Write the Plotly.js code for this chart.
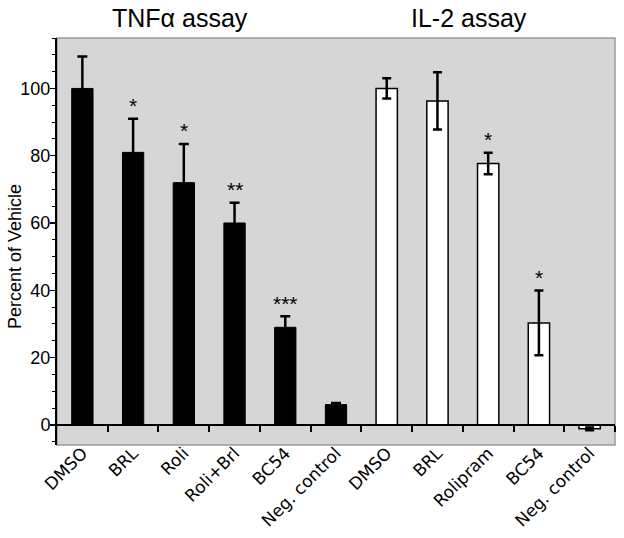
<!DOCTYPE html>
<html>
<head>
<meta charset="utf-8">
<script src="https://cdn.plot.ly/plotly-3.0.1.min.js"></script>
<style>
  body { margin: 0; background: #fff; }
  #chart { width: 624px; height: 538px; }
</style>
</head>
<body>
<div id="chart"></div>
<script>
const tnfLabels = ['DMSO', 'BRL', 'Roli', 'Roli+Brl', 'BC54', 'Neg. control']
const tnfValues = [100, 81, 72, 60, 29, 6]
const tnfErrors = [9.5, 10, 11.5, 6, 3.3, 0.5]
const tnfStars = ['', '*', '*', '**', '***', '']

const il2Labels = ['DMSO', 'BRL', 'Rolipram', 'BC54', 'Neg. control']
const il2Values = [100, 96.3, 77.7, 30.3, -1.2]
const il2Errors = [3, 8.5, 3.2, 9.6, 0.4]
const il2Stars = ['', '', '*', '*', '']

const tnfX = tnfLabels.map((label, i) => i)
const il2X = il2Labels.map((label, i) => i + tnfLabels.length)
const allX = tnfX.concat(il2X)
const allLabels = tnfLabels.concat(il2Labels)
const boundaries = allX.map(x => x + 0.5)

const yRange = [-6, 115]
const xRange = [-0.5, allX.length - 0.5]

const sans = 'Liberation Sans, Arial, sans-serif'

const tnfTrace = {
	x: tnfX,
	y: tnfValues,
	type: 'bar',
	width: 0.42,
	marker: { color: '#000', line: { color: '#000', width: 1 } },
	error_y: {
		type: 'data',
		array: tnfErrors,
		color: '#000',
		thickness: 2.5,
		width: 5,
	},
}

const il2Trace = {
	x: il2X,
	y: il2Values,
	type: 'bar',
	width: 0.42,
	marker: { color: '#fff', line: { color: '#000', width: 1.5 } },
	error_y: {
		type: 'data',
		array: il2Errors,
		color: '#000',
		thickness: 2.5,
		width: 4.5,
	},
}

// significance marks sit just above each error bar
const stars = []
tnfStars.forEach((s, i) => {
	if (s) stars.push({ x: tnfX[i], y: tnfValues[i] + tnfErrors[i], text: s })
})
il2Stars.forEach((s, i) => {
	if (s) stars.push({ x: il2X[i], y: il2Values[i] + il2Errors[i], text: s })
})

const annotations = stars.map(s => ({
	x: s.x,
	y: s.y,
	xref: 'x',
	yref: 'y',
	text: s.text,
	showarrow: false,
	xanchor: 'center',
	yanchor: 'middle',
	yshift: 13,
	font: { family: sans, size: 21, color: '#000' },
}))

annotations.push(
	{
		x: 0.22, y: 1.05, xref: 'paper', yref: 'paper',
		text: 'TNFα assay', showarrow: false, xanchor: 'center', yanchor: 'middle',
		font: { family: sans, size: 25, color: '#000' },
	},
	{
		x: 0.738, y: 1.05, xref: 'paper', yref: 'paper',
		text: 'IL-2 assay', showarrow: false, xanchor: 'center', yanchor: 'middle',
		font: { family: sans, size: 25, color: '#000' },
	},
	{
		x: -0.075, y: 0.462, xref: 'paper', yref: 'paper',
		text: 'Percent of Vehicle', showarrow: false, textangle: -90,
		xanchor: 'center', yanchor: 'middle',
		font: { family: sans, size: 18, color: '#000' },
	}
)

const layout = {
	width: 624,
	height: 538,
	margin: { l: 57, r: 9, t: 38, b: 93, pad: 0 },
	paper_bgcolor: '#fff',
	plot_bgcolor: '#d6d6d6',
	showlegend: false,
	barmode: 'overlay',
	font: { family: sans, color: '#000' },
	xaxis: {
		range: xRange,
		tickvals: allX,
		ticktext: allLabels,
		tickangle: -45,
		ticks: '',
		ticklabelstandoff: -6,
		showline: false,
		showgrid: false,
		zeroline: false,
		tickfont: { family: 'DejaVu Sans, Verdana, sans-serif', size: 17, color: '#000' },
	},
	xaxis2: {
		range: xRange,
		overlaying: 'x',
		anchor: 'free',
		position: (0 - yRange[0]) / (yRange[1] - yRange[0]),
		side: 'bottom',
		tickvals: boundaries,
		showticklabels: false,
		ticks: 'outside',
		ticklen: 6,
		tickwidth: 2,
		tickcolor: '#000',
		showline: true,
		linecolor: '#000',
		linewidth: 2,
		showgrid: false,
		zeroline: false,
	},
	yaxis: {
		range: yRange,
		tickvals: [0, 20, 40, 60, 80, 100],
		ticks: 'outside',
		ticklen: 5,
		tickwidth: 1.5,
		tickcolor: '#000',
		ticklabelstandoff: -4,
		minor: { dtick: 5, tick0: 0, ticks: 'outside', ticklen: 3, tickwidth: 1, tickcolor: '#000' },
		showline: true,
		linecolor: '#000',
		linewidth: 2,
		showgrid: false,
		zeroline: false,
		tickfont: { size: 18, color: '#000' },
	},
	shapes: [
		{
			type: 'rect', xref: 'paper', yref: 'paper',
			x0: 0, x1: 1, y0: 0, y1: 1,
			line: { color: '#9a9a9a', width: 1.5 },
			layer: 'below',
		},
	],
	annotations: annotations,
}

// an invisible point keeps xaxis2 (the zero line with its ticks) drawn
const axisTrace = {
	x: [allX[0]],
	y: [0],
	xaxis: 'x2',
	type: 'scatter',
	mode: 'markers',
	marker: { opacity: 0 },
	hoverinfo: 'skip',
}

Plotly.newPlot('chart', [tnfTrace, il2Trace, axisTrace], layout, { displayModeBar: false, staticPlot: true })
</script>
</body>
</html>
